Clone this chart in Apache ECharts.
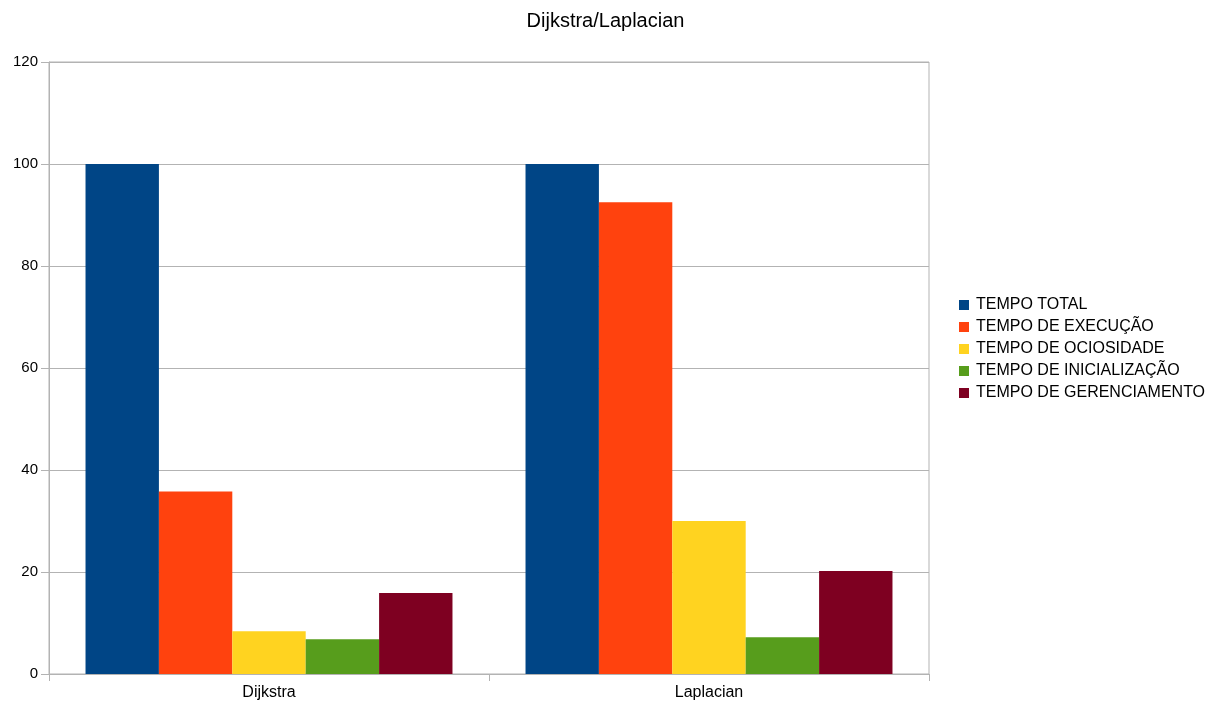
<!DOCTYPE html>
<html>
<head>
<meta charset="utf-8">
<script src="https://cdn.jsdelivr.net/npm/echarts@6/dist/echarts.min.js"></script>
<style>
html,body{margin:0;padding:0;background:#fff;}
#chart{width:1211px;height:704px;}
</style>
</head>
<body>
<div id="chart"></div>
<script>
// Categories and series values
const categories = ['Dijkstra', 'Laplacian'];
const seriesNames = ['TEMPO TOTAL', 'TEMPO DE EXECUÇÃO', 'TEMPO DE OCIOSIDADE', 'TEMPO DE INICIALIZAÇÃO', 'TEMPO DE GERENCIAMENTO'];
const tempoTotal = [100, 100];
const tempoExecucao = [35.8, 92.5];
const tempoOciosidade = [8.4, 30.0];
const tempoInicializacao = [6.8, 7.2];
const tempoGerenciamento = [15.9, 20.2];
const colors = ['#004586', '#ff420e', '#ffd320', '#579d1c', '#7e0021'];

const values = [tempoTotal, tempoExecucao, tempoOciosidade, tempoInicializacao, tempoGerenciamento];
const font = 'Liberation Sans, Arial, sans-serif';

const chart = echarts.init(document.getElementById('chart'));
chart.setOption({
  animation: false,
  color: colors,
  title: {
    text: 'Dijkstra/Laplacian',
    left: 'center',
    top: 6,
    textStyle: { fontFamily: font, fontSize: 20, fontWeight: 'normal', color: '#000' }
  },
  legend: {
    orient: 'vertical',
    left: 954,
    top: 292,
    itemWidth: 10,
    itemHeight: 10,
    itemGap: 6,
    icon: 'rect',
    textStyle: { fontFamily: font, fontSize: 16, color: '#000', padding: [0, 0, 0, 2] },
    data: seriesNames
  },
  grid: {
    left: 49, right: 282, top: 62, bottom: 30,
    show: true, borderColor: '#b3b3b3', borderWidth: 1
  },
  xAxis: {
    type: 'category',
    data: categories,
    axisLine: { lineStyle: { color: '#b3b3b3' } },
    axisTick: { show: true, length: 7, lineStyle: { color: '#b3b3b3' } },
    axisLabel: { fontFamily: font, fontSize: 16, color: '#000', margin: 11 }
  },
  yAxis: {
    type: 'value',
    min: 0, max: 120, interval: 20,
    axisLine: { show: true, lineStyle: { color: '#b3b3b3' } },
    axisTick: { show: true, length: 8, lineStyle: { color: '#b3b3b3' } },
    splitLine: { lineStyle: { color: '#b3b3b3' } },
    axisLabel: { fontFamily: font, fontSize: 15, color: '#000', margin: 11 }
  },
  series: seriesNames.map((name, i) => ({
    name: name,
    type: 'bar',
    data: values[i],
    barGap: '0%',
    barCategoryGap: '16.6%',
    itemStyle: { color: colors[i] }
  }))
});
</script>
</body>
</html>
